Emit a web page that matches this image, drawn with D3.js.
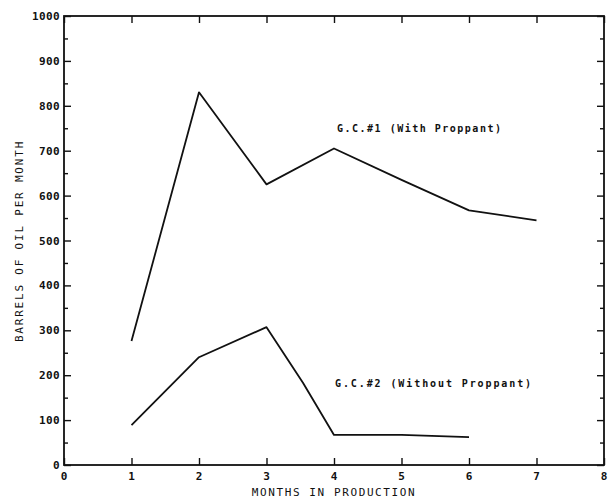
<!DOCTYPE html>
<html><head><meta charset="utf-8">
<script src="https://cdn.jsdelivr.net/npm/d3@7"></script>
<style>body{margin:0;background:#fff}text{font-family:"DejaVu Sans Mono",monospace;font-weight:bold;fill:#111}</style>
</head><body><svg id="c" width="608" height="500"></svg>
<script>
const months = [1,2,3,4,5,6,7];
const gc1 = [276, 830, 625, 705, 635, 567, 545];
const gc2Months = [1,2,3,3.54,4,5,6];
const gc2 = [89, 240, 307, 183, 67, 67, 62];
const xTicks = [0,1,2,3,4,5,6,7,8];
const yTicks = [0,100,200,300,400,500,600,700,800,900,1000];
const label1 = "G.C.#1 (With Proppant)";
const label2 = "G.C.#2 (Without Proppant)";
const xTitle = "MONTHS IN PRODUCTION";
const yTitle = "BARRELS OF OIL PER MONTH";

const svg = d3.select("#c");
const x = d3.scaleLinear().domain([0,8]).range([64,604]);
const y = d3.scaleLinear().domain([0,1000]).range([465,16]);

// frame
svg.append("rect").attr("x",x(0)).attr("y",y(1000)).attr("width",x(8)-x(0)).attr("height",y(0)-y(1000))
  .attr("fill","none").attr("stroke","#111").attr("stroke-width",1.8);

// left axis (inward ticks)
const minorY = d3.range(50,1000,100);
const leftG = svg.append("g").attr("transform",`translate(${x(0)},0)`);
leftG.call(d3.axisRight(y).tickValues(yTicks).tickSize(7).tickFormat(""));
leftG.append("g").call(d3.axisRight(y).tickValues(minorY).tickSize(4).tickFormat(""));
leftG.selectAll(".domain").remove();
svg.selectAll("text.yl").data(yTicks).enter().append("text").attr("class","yl")
  .attr("x",x(0)-4).attr("y",d=>y(d)+4).attr("text-anchor","end").attr("font-size",11)
  .style("letter-spacing","0.4px").text(d=>d);

// right axis (inward ticks)
const rightG = svg.append("g").attr("transform",`translate(${x(8)},0)`);
rightG.call(d3.axisLeft(y).tickValues(yTicks).tickSize(7).tickFormat(""));
rightG.append("g").call(d3.axisLeft(y).tickValues(minorY).tickSize(4).tickFormat(""));
rightG.selectAll(".domain").remove();

// bottom axis
const bottomG = svg.append("g").attr("transform",`translate(0,${y(0)})`);
bottomG.call(d3.axisTop(x).tickValues(xTicks).tickSize(7).tickFormat(""));
bottomG.selectAll(".domain").remove();
svg.selectAll("text.xl").data(xTicks).enter().append("text").attr("class","xl")
  .attr("x",d=>x(d)).attr("y",y(0)+15).attr("text-anchor","middle").attr("font-size",11).text(d=>d);

// top axis
const topG = svg.append("g").attr("transform",`translate(0,${y(1000)})`);
topG.call(d3.axisBottom(x).tickValues(xTicks).tickSize(7).tickFormat(""));
topG.selectAll(".domain").remove();

svg.selectAll(".tick line").attr("stroke","#111").attr("stroke-width",1.4);

// titles
svg.append("text").attr("x",(x(0)+x(8))/2).attr("y",496).attr("text-anchor","middle")
  .attr("font-size",11).style("letter-spacing","1.6px").style("font-weight","normal").text(xTitle);
svg.append("text").attr("transform","translate(23,241) rotate(-90)").attr("text-anchor","middle")
  .attr("font-size",11).style("letter-spacing","1.8px").style("font-weight","normal").text(yTitle);

// lines
const line = d3.line().x(d=>x(d[0])).y(d=>y(d[1]));
svg.append("path").datum(months.map((m,i)=>[m,gc1[i]])).attr("d",line)
  .attr("fill","none").attr("stroke","#111").attr("stroke-width",1.8).attr("stroke-linejoin","round");
svg.append("path").datum(gc2Months.map((m,i)=>[m,gc2[i]])).attr("d",line)
  .attr("fill","none").attr("stroke","#111").attr("stroke-width",1.8).attr("stroke-linejoin","round");

// labels
svg.append("text").attr("x",337).attr("y",132).attr("font-size",10).style("letter-spacing","1.5px").text(label1);
svg.append("text").attr("x",335).attr("y",387).attr("font-size",10).style("letter-spacing","1.9px").text(label2);
</script></body></html>
